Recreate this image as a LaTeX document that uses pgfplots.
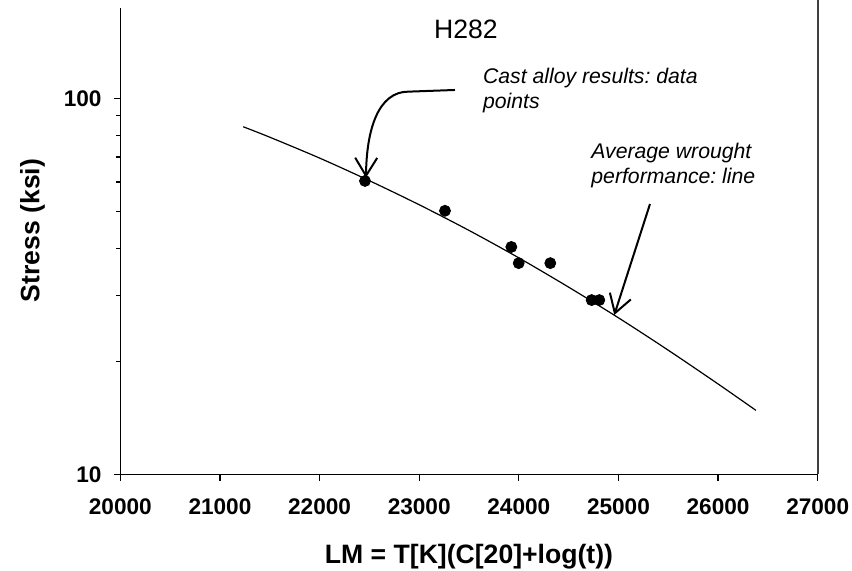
\documentclass[border=0pt]{standalone}
\usepackage{fontspec}
\setmainfont{Liberation Sans}
\usepackage{pgfplots}
\pgfplotsset{compat=1.18}
\usetikzlibrary{arrows.meta}
\frenchspacing

\begin{document}
\begin{tikzpicture}
\useasboundingbox (0,0) rectangle (426pt,285pt);
\begin{axis}[
  at={(60.15pt,47.85pt)}, anchor=south west,
  scale only axis, width=348.7pt, height=233.15pt,
  xmin=20000, xmax=27000,
  ymode=log, ymin=10, ymax=174.4,
  xtick={20000,21000,...,27000},
  scaled x ticks=false,
  ytick={10,100}, yticklabels={10,100},
  minor ytick={20,30,40,50,60,70,80,90},
  axis x line*=bottom, axis y line*=left,
  tick align=outside,
  major tick length=3.2pt, minor tick length=2.1pt,
  tick style={black, line width=0.6pt},
  axis line style={black, line width=0.6pt},
  /pgf/number format/assume math mode=true,
  /pgf/number format/1000 sep={},
  ticklabel style={font=\fontsize{11.3}{13}\selectfont\bfseries},
  xticklabel style={inner sep=0pt, yshift=-9pt},
  yticklabel style={inner sep=0pt, xshift=-6pt},
  xlabel={LM = T[K](C[20]+log(t))},
  ylabel={Stress (ksi)},
  label style={font=\fontsize{13.3}{15}\selectfont\bfseries},
  xlabel style={at={(rel axis cs:0.5,-0.1909)}, anchor=base},
  ylabel style={at={(rel axis cs:-0.1160,0.5228)}, anchor=base},
  clip=false,
]
% average wrought performance
\addplot[black, line width=0.6pt, smooth] coordinates {
  (21234,84.2) (21500,79.0) (22000,69.5) (22500,60.5) (23000,52.2)
  (23500,44.6) (24000,37.7) (24500,31.5) (25000,26.1) (25500,21.4)
  (26000,17.4) (26380,14.8)};
% cast alloy results
\addplot[only marks, mark=*, mark size=2.75pt, black] coordinates {
  (22456,60.4) (23259,50.3) (23925,40.3) (23999,36.5) (24316,36.5)
  (24731,29.1) (24808,29.1)};

\draw[black!75, line width=0.8pt] (rel axis cs:1,0) -- ([yshift=4pt]rel axis cs:1,1);

\node[anchor=base, font=\fontsize{13.3}{15}\selectfont] at (rel axis cs:0.4956,0.935) {H282};
\node[anchor=base west, inner sep=0pt, font=\fontsize{10.6}{12}\selectfont\itshape] at (rel axis cs:0.5197,0.8385) {Cast alloy results: data};
\node[anchor=base west, inner sep=0pt, font=\fontsize{10.6}{12}\selectfont\itshape] at (rel axis cs:0.5197,0.7850) {points};
\node[anchor=base west, inner sep=0pt, font=\fontsize{10.6}{12}\selectfont\itshape] at (rel axis cs:0.675,0.6777) {Average wrought};
\node[anchor=base west, inner sep=0pt, font=\fontsize{10.6}{12}\selectfont\itshape] at (rel axis cs:0.675,0.6241) {performance: line};

\draw[line width=1pt, -{Straight Barb[length=9pt,width=11pt]}]
  (rel axis cs:0.4799,0.8242) -- (rel axis cs:0.4130,0.8206)
  .. controls (rel axis cs:0.3700,0.8206) and (rel axis cs:0.3530,0.7400)
  .. (rel axis cs:0.3523,0.6360);
\draw[line width=1pt, -{Straight Barb[length=9pt,width=11pt]}]
  (rel axis cs:0.7595,0.5796) -- (rel axis cs:0.7083,0.3416);
\end{axis}
\end{tikzpicture}
\end{document}
